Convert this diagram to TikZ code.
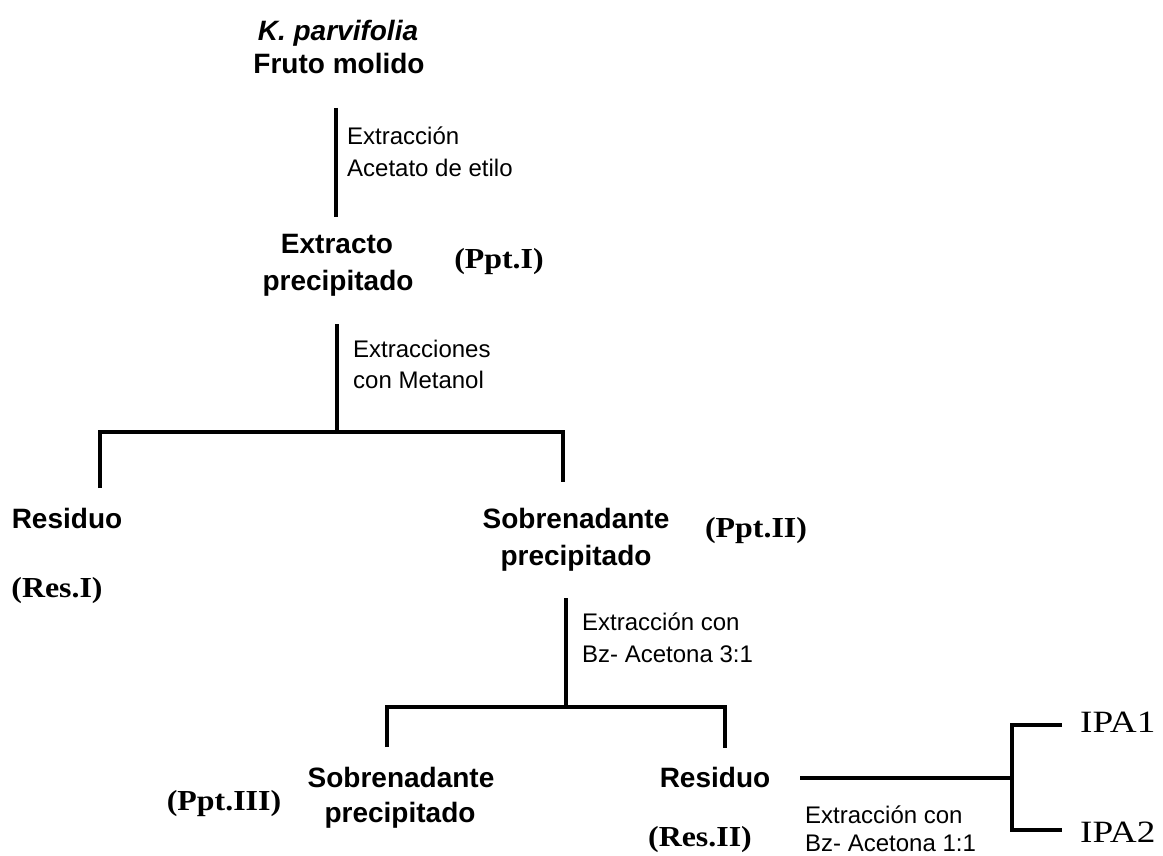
\documentclass[tikz,border=0pt]{standalone}
\usepackage{fontspec}
\usepackage{graphicx}
\setmainfont{Liberation Sans}
\newfontfamily\tnr{Liberation Serif}
\begin{document}
\begin{tikzpicture}[x=1pt,y=-1pt,
  big/.style={font=\fontsize{28}{30}\selectfont\bfseries, anchor=base, inner sep=0pt},
  small/.style={font=\fontsize{24}{26}\selectfont, anchor=base west, inner sep=0pt},
  tag/.style={font=\fontsize{29}{30}\selectfont\tnr\bfseries, anchor=base, inner sep=0pt},
  ipa/.style={font=\fontsize{31}{32}\selectfont\tnr, anchor=base west, inner sep=0pt},
  conn/.style={line width=3.5pt, line join=miter}]
\useasboundingbox (0,0) rectangle (1163,856);

% texts
\node[big, font=\fontsize{28}{30}\selectfont\bfseries\itshape] (kp) at (338,41) {K. parvifolia};
\node[big] (fm) at (339,74) {Fruto molido};
\node[small] (l1a) at (347,145) {Extracción};
\node[small] (l1b) at (347,177) {Acetato de etilo};

\node[big] (ext) at (337,254) {Extracto};
\node[big] (ep) at (338,290) {precipitado};
\node[tag] (ppt1) at (499,268) {\scalebox{1.1}[1]{(Ppt.I)}};
\node[small] (l2a) at (353,357) {Extracciones};
\node[small] (l2b) at (353,388) {con Metanol};

\node[big] (res1) at (67,528) {Residuo};
\node[tag] (resI) at (57,597) {\scalebox{1.1}[1]{(Res.I)}};
\node[big] (sob) at (576,528) {Sobrenadante};
\node[big] (sp) at (576,565) {precipitado};
\node[tag] (ppt2) at (756,537) {\scalebox{1.1}[1]{(Ppt.II)}};
\node[small] (l3a) at (582,630) {Extracción con};
\node[small] (l3b) at (582,662) {Bz- Acetona 3:1};

\node[big] (sob2) at (401,787) {Sobrenadante};
\node[big] (sp2) at (400,822) {precipitado};
\node[tag] (ppt3) at (224,810) {\scalebox{1.1}[1]{(Ppt.III)}};
\node[big] (res2) at (715,787) {Residuo};
\node[tag] (resII) at (700,846) {\scalebox{1.1}[1]{(Res.II)}};
\node[small] (l4a) at (805,823) {Extracción con};
\node[small] (l4b) at (805,851) {Bz- Acetona 1:1};
\node[ipa] (ipa1) at (1080,732) {\scalebox{1.2}[1]{IPA1}};
\node[ipa] (ipa2) at (1080,842) {\scalebox{1.2}[1]{IPA2}};

% connector coordinates
\coordinate (c1t) at (336,108);
\coordinate (c1b) at (336,217);
\coordinate (c2t) at (337,324);
\coordinate (c2b) at (337,432);
\coordinate (b1l) at (100,432);
\coordinate (b1r) at (563,432);
\coordinate (d1l) at (100,488);
\coordinate (d1r) at (563,482);
\coordinate (c3t) at (566,598);
\coordinate (c3b) at (566,707);
\coordinate (b2l) at (387,707);
\coordinate (b2r) at (725,707);
\coordinate (d2l) at (387,747);
\coordinate (d2r) at (725,748);
\coordinate (h1) at (800,778);
\coordinate (h2) at (1012,778);
\coordinate (k1) at (1012,725);
\coordinate (k2) at (1012,830);
\coordinate (e1) at (1062,725);
\coordinate (e2) at (1062,830);

% connectors
\draw[conn] (c1t) -- (c1b);
\draw[conn] (c2t) -- (c2b);
\draw[conn] (d1l) -- (b1l) -- (b1r) -- (d1r);
\draw[conn] (c3t) -- (c3b);
\draw[conn] (d2l) -- (b2l) -- (b2r) -- (d2r);
\draw[conn] (h1) -- (h2);
\draw[conn] (e1) -- (k1) -- (k2) -- (e2);
\end{tikzpicture}
\end{document}
